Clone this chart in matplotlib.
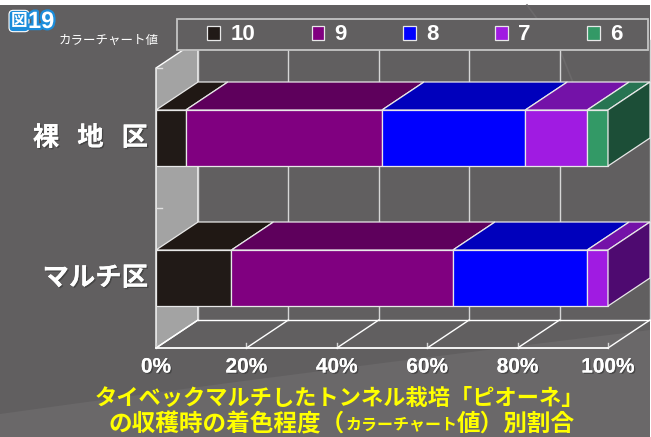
import matplotlib
matplotlib.use("Agg")
import matplotlib.pyplot as plt
from matplotlib.patches import Polygon, Rectangle, PathPatch
from matplotlib.path import Path
from matplotlib.font_manager import FontProperties
import matplotlib.patheffects as pe
import numpy as np

# ---- data -------------------------------------------------------------
categories = ["裸   地   区", "マルチ区"]
grades = ["10", "9", "8", "7", "6"]
share_bare = [6.6, 43.4, 31.7, 13.7, 4.6]     # % of fruit per colour-chart grade
share_mulch = [16.7, 49.0, 29.7, 4.6, 0.0]
x_ticks = [0, 20, 40, 60, 80, 100]
x_tick_labels = ["0%", "20%", "40%", "60%", "80%", "100%"]

front_colors = ["#211a17", "#800080", "#0000ff", "#a01be2", "#339966"]
top_colors = ["#201814", "#5e005c", "#0000bc", "#7412a8", "#277452"]
side_colors = ["#161110", "#4a0048", "#000090", "#4e0a70", "#1c4e37"]

BG = "#615f60"
WALL = "#a3a3a3"
EDGE = "#e8e8e8"

# ---- figure / coordinate frame ----------------------------------------
W, H = 651, 437
fig = plt.figure(figsize=(W / 100, H / 100), dpi=100)
fig.patch.set_facecolor("white")
ax = fig.add_axes([0, 0, 1, 1])
ax.set_axis_off()

X0_PX, PX_PER_PCT = 156.0, 4.52     # 0% on the front plane, pixels per percent
Y0_PX, PX_PER_ROW = 138.0, 140.0    # first category centre, pixels per category
ax.set_xlim(-X0_PX / PX_PER_PCT, (W - X0_PX) / PX_PER_PCT)
ax.set_ylim((H - Y0_PX) / PX_PER_ROW, -Y0_PX / PX_PER_ROW)


def px_x(p):
    return (p - X0_PX) / PX_PER_PCT


def px_y(p):
    return (p - Y0_PX) / PX_PER_ROW


DX = 42 / PX_PER_PCT     # depth offset of the 3-D box
DY = 28 / PX_PER_ROW
BAR_H = 0.4
Y_TOP, Y_BOT = -0.5, len(categories) - 0.5

# slide background with a soft lighter sweep at the bottom
ax.add_patch(Rectangle((0, 0), 650 / W, 1 - 5 / H, transform=ax.transAxes,
                       facecolor=BG, edgecolor="none", zorder=0))
sweep = Path([(0, 1 - 414 / H), (300 / W, 1 - 372 / H), (650 / W, 1 - 330 / H),
              (650 / W, 0), (0, 0), (0, 1 - 414 / H)],
             [Path.MOVETO, Path.CURVE3, Path.CURVE3, Path.LINETO, Path.LINETO,
              Path.CLOSEPOLY])
ax.add_patch(PathPatch(sweep, transform=ax.transAxes, facecolor="#6a6869",
                       edgecolor="none", zorder=0.1))
ax.plot([527 / W, 560 / W, 578 / W], [1 - 5 / H, 1 - 50 / H, 1 - 95 / H],
        transform=ax.transAxes, color="#6b696a", lw=1.2, zorder=0.2)

# ---- 3-D box: left wall, back grid, floor ----------------------------
ax.add_patch(Polygon([(0, Y_TOP), (DX, Y_TOP - DY), (DX, Y_BOT - DY), (0, Y_BOT)],
                     closed=True, facecolor=WALL, edgecolor="white", lw=1, zorder=1))
for t in x_ticks:
    ax.plot([t + DX, t + DX], [Y_TOP - DY, Y_BOT - DY], color="#d6d6d6", lw=1, zorder=1.2)
    ax.plot([t, t + DX], [Y_BOT, Y_BOT - DY], color="white", lw=1, zorder=1.2)
    ax.plot([t, t], [Y_BOT, Y_BOT - 0.035], color="#d6d6d6", lw=1, zorder=1.2)
ax.plot([DX, 100 + DX], [Y_BOT - DY, Y_BOT - DY], color="white", lw=1, zorder=1.2)
ax.plot([0, 100], [Y_BOT, Y_BOT], color="white", lw=1.3, zorder=1.2)
for yy in [Y_TOP, 0.5]:
    ax.plot([0, 1.3], [yy, yy], color="#e0e0e0", lw=1, zorder=1.3)

# ---- stacked 3-D bars --------------------------------------------------
rows = np.array([share_bare, share_mulch])
ypos = np.arange(len(categories))
lefts = np.zeros(len(categories))
handles = []
for j, g in enumerate(grades):
    vals = rows[:, j]
    bars = ax.barh(ypos, vals, left=lefts, height=BAR_H, color=front_colors[j],
                   edgecolor=EDGE, lw=0.9, zorder=3, label=g)
    for rect, v in zip(bars, vals):
        if v <= 0:
            rect.set_visible(False)
    handles.append(bars)
    for i in ypos:
        if vals[i] <= 0:
            continue
        x0, x1 = lefts[i], lefts[i] + vals[i]
        yt = i - BAR_H / 2
        ax.add_patch(Polygon([(x0, yt), (x1, yt), (x1 + DX, yt - DY), (x0 + DX, yt - DY)],
                             closed=True, facecolor=top_colors[j], edgecolor=EDGE,
                             lw=0.9, zorder=3))
    lefts = lefts + vals

# right-hand end face of each bar, coloured after its last grade
for i in ypos:
    last = max(j for j in range(len(grades)) if rows[i, j] > 0)
    xe = rows[i].sum()
    yt, yb = i - BAR_H / 2, i + BAR_H / 2
    ax.add_patch(Polygon([(xe, yt), (xe, yb), (xe + DX, yb - DY), (xe + DX, yt - DY)],
                         closed=True, facecolor=side_colors[last], edgecolor=EDGE,
                         lw=0.9, zorder=3))

# ---- axis texts --------------------------------------------------------
cjk = ["Noto Sans CJK JP", "DejaVu Sans"]
latin = ["Liberation Sans", "DejaVu Sans"]
shadow = [pe.withSimplePatchShadow(offset=(1, -1), shadow_rgbFace="#3a3a3a", alpha=0.7),
          pe.Normal()]
for i, name in enumerate(categories):
    ax.text(px_x(148), i, name, ha="right", va="center", color="white",
            fontsize=19, fontweight="bold", family=cjk, path_effects=shadow, zorder=5)

for t, lab in zip(x_ticks, x_tick_labels):
    ax.text(t, px_y(367), lab, ha="center", va="center", color="white",
            fontsize=15, fontweight="bold", family=latin,
            path_effects=shadow, zorder=5)

# ---- legend ------------------------------------------------------------
ax.add_patch(Rectangle((px_x(177), px_y(19)), px_x(648) - px_x(177), px_y(50) - px_y(19),
                       facecolor=BG, edgecolor="#c4c4c4", lw=1.3, zorder=4))
leg_font = FontProperties(family=latin, weight="bold", size=16)
leg = ax.legend(handles=handles, labels=grades, ncol=5, loc="center",
                bbox_to_anchor=(px_x(415), px_y(35)), bbox_transform=ax.transData,
                frameon=False, prop=leg_font, labelcolor="white",
                handlelength=0.58, handleheight=0.58, handletextpad=0.45,
                columnspacing=2.55, borderpad=0, borderaxespad=0)
leg.set_zorder(6)

# ---- figure number and titles -----------------------------------------
ax.text(px_x(19), px_y(21), "図", ha="center", va="center", color="white",
        fontsize=12, fontweight="bold", family=cjk, zorder=6,
        bbox=dict(boxstyle="round,pad=0.1,rounding_size=0.25", facecolor="#1c8ddb",
                  edgecolor="white", lw=0.8))
ax.text(px_x(28), px_y(21.5), "19", ha="left", va="center", color="white",
        fontsize=17, fontweight="bold", family=latin,
        path_effects=[pe.withStroke(linewidth=3.2, foreground="#1c8ddb")], zorder=6)
ax.text(px_x(59), px_y(40), "カラーチャート値", ha="left", va="center", color="white",
        fontsize=9, family=cjk, zorder=6)

yellow = "#ffff00"
ax.text(px_x(339), px_y(398), "タイベックマルチしたトンネル栽培「ピオーネ」",
        ha="center", va="center", color=yellow, fontsize=16, fontweight="bold",
        family=cjk, zorder=6)
p1 = ax.text(px_x(109), px_y(424), "の収穫時の着色程度（", ha="left", va="center",
             color=yellow, fontsize=17, fontweight="bold", family=cjk, zorder=6)
p2 = ax.annotate("カラーチャート", xy=(1, 0.5), xycoords=p1, ha="left", va="center",
                 color=yellow, fontsize=11.5, fontweight="bold", family=cjk, zorder=6)
ax.annotate("値）別割合", xy=(1, 0.5), xycoords=p2, ha="left", va="center",
            color=yellow, fontsize=17, fontweight="bold", family=cjk, zorder=6)

fig.savefig("out.png", dpi=100, facecolor=fig.get_facecolor())
